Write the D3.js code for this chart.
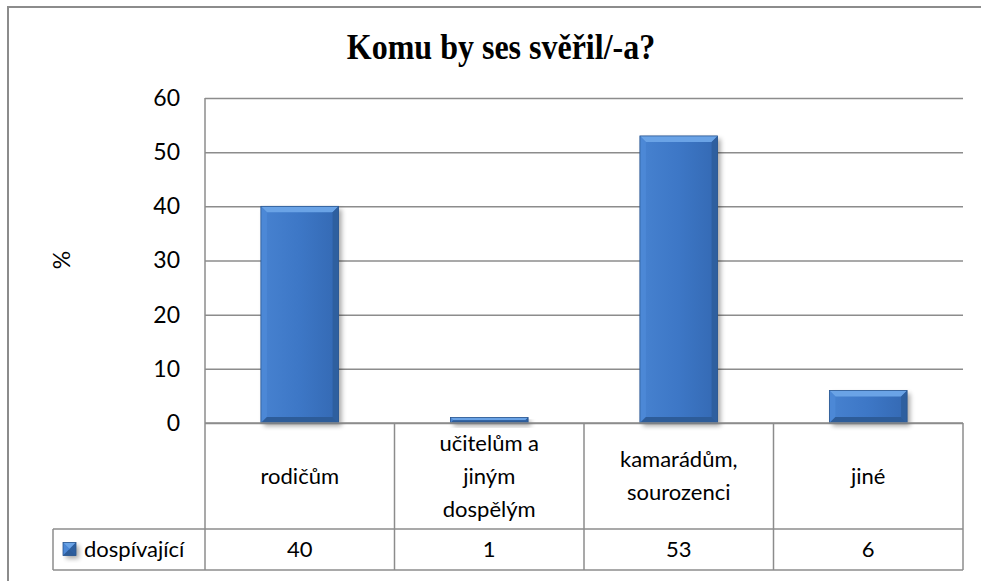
<!DOCTYPE html>
<html>
<head>
<meta charset="utf-8">
<script src="https://cdn.jsdelivr.net/npm/d3@7"></script>
<style>
  body { margin: 0; background: #fff; }
  svg text { font-family: Lato, "Noto Sans", sans-serif; fill: #000; }
</style>
</head>
<body>
<script>
const categories = ["rodičům", "učitelům a jiným dospělým", "kamarádům, sourozenci", "jiné"];
// how the category labels wrap inside the data table
const categoryLines = [["rodičům"], ["učitelům a", "jiným", "dospělým"], ["kamarádům,", "sourozenci"], ["jiné"]];
const seriesName = "dospívající";
const values = [40, 1, 53, 6];
const yTicks = [0, 10, 20, 30, 40, 50, 60];

const width = 981, height = 581;
const margin = { top: 98, right: 18, bottom: 158, left: 205 };
const plotW = width - margin.left - margin.right,
    plotH = height - margin.top - margin.bottom;
const catRowH = 106, valRowH = 41, legendLeft = 53;
const gridColor = "#8c8c8c";

const svg = d3.select("body")
    .append("svg")
    .attr("width", width)
    .attr("height", height);

// outer chart frame (cut off at right and bottom like the source)
svg.append("path")
    .attr("d", "M8,600 L8,7 L1000,7")
    .attr("fill", "none")
    .attr("stroke", gridColor)
    .attr("stroke-width", 2);

const defs = svg.append("defs");
const grad = defs.append("linearGradient")
    .attr("id", "barGrad")
    .attr("x1", 0).attr("x2", 1).attr("y1", 0).attr("y2", 0);
grad.append("stop").attr("offset", "0%").attr("stop-color", "#4782d0");
grad.append("stop").attr("offset", "50%").attr("stop-color", "#3d77c6");
grad.append("stop").attr("offset", "100%").attr("stop-color", "#3469b3");

const shadow = defs.append("filter").attr("id", "shadow")
    .attr("x", "-20%").attr("y", "-20%").attr("width", "150%").attr("height", "150%");
shadow.append("feGaussianBlur").attr("stdDeviation", 2.5);

// title
svg.append("text")
    .attr("transform", "translate(501,59) scale(1,1.1)")
    .attr("text-anchor", "middle")
    .style("font-family", "'Liberation Serif', 'Times New Roman', serif")
    .style("font-weight", "bold")
    .style("font-size", "32px")
    .text("Komu by ses svěřil/-a?");

const g = svg.append("g")
    .attr("transform", "translate(" + margin.left + "," + margin.top + ")");

const x = d3.scaleBand().domain(categories).range([0, plotW]).padding(0);
const y = d3.scaleLinear().domain([0, 60]).range([plotH, 0]);

// gridlines
g.append("g")
    .attr("class", "grid")
    .call(d3.axisLeft(y).tickValues(yTicks).tickSize(-plotW).tickFormat(""))
    .call(s => s.select(".domain").remove())
    .selectAll("line")
    .attr("stroke", gridColor)
    .attr("stroke-width", 1.5);

// tick labels
g.append("g")
    .call(d3.axisLeft(y).tickValues(yTicks).tickSize(0).tickPadding(25))
    .call(s => s.select(".domain").remove())
    .selectAll("text")
    .style("font-size", "23px")
    .style("fill", "#000");

// plot left edge, runs down through the table
g.append("line")
    .attr("x1", 0).attr("x2", 0)
    .attr("y1", 0).attr("y2", plotH + catRowH + valRowH)
    .attr("stroke", gridColor).attr("stroke-width", 1.5);

// y axis title
svg.append("text")
    .attr("transform", "translate(70,260) rotate(-90)")
    .attr("text-anchor", "middle")
    .style("font-size", "23px")
    .text("%");

// bars with a bevel look
const barW = x.bandwidth() * 0.41, bev = 6;

function drawBar(sel, bx, by, bw, bh) {
    const b = Math.min(bev, bh / 2, bw / 2);
    sel.append("rect")
        .attr("x", bx + 3).attr("y", by + 3)
        .attr("width", bw).attr("height", bh)
        .attr("fill", "#000").attr("opacity", 0.35)
        .attr("filter", "url(#shadow)");
    sel.append("rect")
        .attr("x", bx).attr("y", by)
        .attr("width", bw).attr("height", bh)
        .attr("fill", "url(#barGrad)");
    const x0 = bx, x1 = bx + bw, y0 = by, y1 = by + bh;
    const polys = [
        [[[x0, y0], [x1, y0], [x1 - b, y0 + b], [x0 + b, y0 + b]], "#6aa3e6"],
        [[[x0, y0], [x0 + b, y0 + b], [x0 + b, y1 - b], [x0, y1]], "#4c88d6"],
        [[[x1, y0], [x1, y1], [x1 - b, y1 - b], [x1 - b, y0 + b]], "#2e5f9f"],
        [[[x0, y1], [x0 + b, y1 - b], [x1 - b, y1 - b], [x1, y1]], "#2d5c99"]
    ];
    polys.forEach(p => {
        sel.append("polygon")
            .attr("points", p[0].map(d => d.join(",")).join(" "))
            .attr("fill", p[1]);
    });
    sel.append("rect")
        .attr("x", bx).attr("y", by)
        .attr("width", bw).attr("height", bh)
        .attr("fill", "none").attr("stroke", "#2a5690").attr("stroke-width", 0.8);
}

categories.forEach((c, i) => {
    const bx = x(c) + (x.bandwidth() - barW) / 2;
    drawBar(g.append("g"), bx, y(values[i]), barW, y(0) - y(values[i]));
});

// data table
const t = g.append("g").attr("transform", "translate(0," + plotH + ")");
const tl = (x1, y1, x2, y2) => t.append("line")
    .attr("x1", x1).attr("y1", y1).attr("x2", x2).attr("y2", y2)
    .attr("stroke", gridColor).attr("stroke-width", 1.5);

tl(0, 0, plotW, 0);
tl(legendLeft - margin.left, catRowH, plotW, catRowH);
tl(legendLeft - margin.left, catRowH + valRowH, plotW, catRowH + valRowH);
tl(legendLeft - margin.left, catRowH, legendLeft - margin.left, catRowH + valRowH);
categories.forEach(c => tl(x(c) + x.bandwidth(), 0, x(c) + x.bandwidth(), catRowH + valRowH));

categories.forEach((c, i) => {
    const cx = x(c) + x.bandwidth() / 2;
    const lines = categoryLines[i], lh = 33;
    const txt = t.append("text")
        .attr("text-anchor", "middle")
        .style("font-size", "22px");
    lines.forEach((l, k) => {
        txt.append("tspan")
            .attr("x", cx)
            .attr("y", catRowH / 2 + (k - (lines.length - 1) / 2) * lh)
            .attr("dy", "0.36em")
            .text(l);
    });
    t.append("text")
        .attr("x", cx)
        .attr("y", catRowH + valRowH / 2)
        .attr("dy", "0.36em")
        .attr("text-anchor", "middle")
        .style("font-size", "22px")
        .text(values[i]);
});

// legend cell
const lx = legendLeft - margin.left;
drawBar(t.append("g"), lx + 10, catRowH + valRowH / 2 - 7, 13, 13);
t.append("text")
    .attr("x", lx + 31)
    .attr("y", catRowH + valRowH / 2)
    .attr("dy", "0.36em")
    .style("font-size", "22px")
    .text(seriesName);
</script>
</body>
</html>
